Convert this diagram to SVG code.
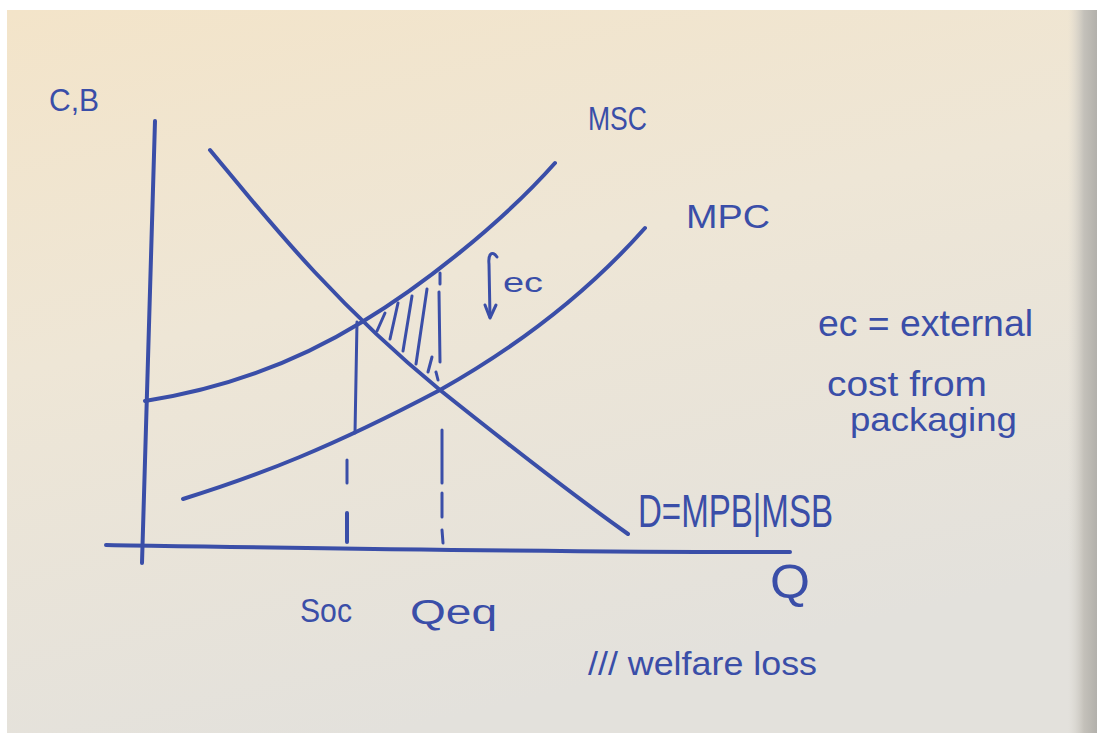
<svg xmlns="http://www.w3.org/2000/svg" width="1097" height="733" viewBox="0 0 1097 733">
<defs>
<linearGradient id="paper" x1="0" y1="0" x2="0.35" y2="1">
<stop offset="0" stop-color="#f3e4c9"/>
<stop offset="0.45" stop-color="#eee6d6"/>
<stop offset="1" stop-color="#e3e1dc"/>
</linearGradient>
<linearGradient id="edge" x1="0" y1="0" x2="1" y2="0">
<stop offset="0" stop-color="#d9d6cf" stop-opacity="0"/>
<stop offset="0.55" stop-color="#c4c1ba"/>
<stop offset="1" stop-color="#b2b0ab"/>
</linearGradient>
<style>
.ink{fill:none;stroke:#3a4ea8;stroke-width:4;stroke-linecap:round;stroke-linejoin:round}
.thin{fill:none;stroke:#3a4ea8;stroke-width:3;stroke-linecap:round;stroke-linejoin:round}
.lbl{fill:#3a4ea8;font-family:"Liberation Sans","DejaVu Sans",sans-serif}
</style>
</defs>
<rect width="1097" height="733" fill="#ffffff"/>
<rect x="7" y="10" width="1090" height="723" fill="url(#paper)"/>
<rect x="1068" y="10" width="29" height="723" fill="url(#edge)"/>

<g id="axes">
<path class="ink" d="M155,121 C150,250 146,400 142,563"/>
<path class="ink" d="M106,545 C300,548 600,553 790,552"/>
</g>

<g id="curves">
<path id="msc" class="ink" d="M145,401 C230,388 300,360 362,322 C420,287 500,225 555,163"/>
<path id="mpc" class="ink" d="M183,499 C260,475 330,448 440,390 C520,345 590,290 645,228"/>
<path id="demand" class="ink" d="M210,150 C260,210 330,300 440,390 C510,446 580,500 628,534"/>
</g>

<g id="guides">
<path class="thin" d="M357,322 L355,433"/>
<path class="thin" d="M347,460 L347,483"/>
<path class="ink" d="M347,513 L347,542"/>
<path class="thin" d="M440,273 L440,284"/>
<path class="thin" d="M439,292 L440,362"/>
<path class="thin" d="M436,372 L438,380"/>
<path class="thin" d="M442,430 L442,483"/>
<path class="thin" d="M442,493 L442,517"/>
<path class="thin" d="M442,530 L443,543"/>
</g>

<g id="welfare-loss-hatch">
<path class="thin" d="M377,331 L385,313"/>
<path class="thin" d="M390,339 L398,303"/>
<path class="thin" d="M403,351 L412,296"/>
<path class="thin" d="M416,364 L427,289"/>
<path class="thin" d="M428,372 L432,357"/>
</g>

<g id="ec-arrow">
<path class="thin" d="M497,257 C492,250 488,254 489,264 L490,317"/>
<path class="thin" d="M485,305 L490,318 L496,305"/>
<text class="lbl" x="503" y="292" font-size="28" textLength="40" lengthAdjust="spacingAndGlyphs">ec</text>
</g>

<g id="labels">
<text class="lbl" x="49" y="111" font-size="32" textLength="50" lengthAdjust="spacingAndGlyphs">C,B</text>
<text class="lbl" x="588" y="130" font-size="34" textLength="59" lengthAdjust="spacingAndGlyphs">MSC</text>
<text class="lbl" x="686" y="228" font-size="34" textLength="84" lengthAdjust="spacingAndGlyphs">MPC</text>
<text class="lbl" x="638" y="527" font-size="46" textLength="195" lengthAdjust="spacingAndGlyphs">D=MPB|MSB</text>
<text class="lbl" x="770" y="598" font-size="48" textLength="40" lengthAdjust="spacingAndGlyphs">Q</text>
<text class="lbl" x="300" y="622" font-size="33" textLength="52" lengthAdjust="spacingAndGlyphs">Soc</text>
<text class="lbl" x="410" y="624" font-size="35" textLength="87" lengthAdjust="spacingAndGlyphs">Qeq</text>
<text class="lbl" x="588" y="675" font-size="33" textLength="229" lengthAdjust="spacingAndGlyphs">/// welfare loss</text>
<text class="lbl" x="818" y="336" font-size="37" textLength="215" lengthAdjust="spacingAndGlyphs">ec = external</text>
<text class="lbl" x="827" y="396" font-size="35" textLength="160" lengthAdjust="spacingAndGlyphs">cost from</text>
<text class="lbl" x="850" y="431" font-size="34" textLength="167" lengthAdjust="spacingAndGlyphs">packaging</text>
</g>
</svg>
